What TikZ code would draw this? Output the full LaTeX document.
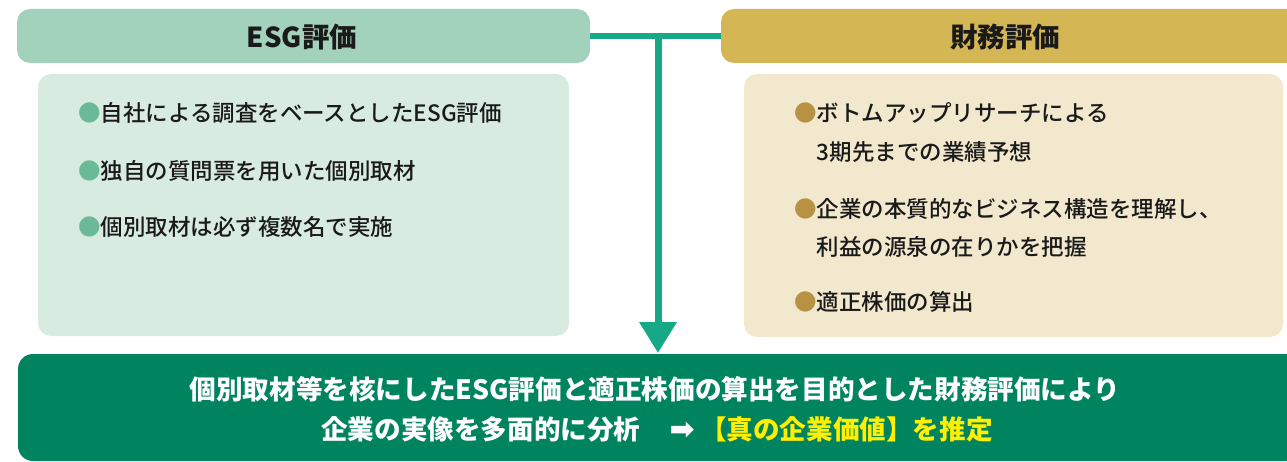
\documentclass[tikz,border=0pt]{standalone}
\usepackage{fontspec}
\setmainfont{Noto Sans CJK JP}
\newfontfamily\medfont{Noto Sans CJK JP Medium}
\newfontfamily\symfont{DejaVu Sans}
\usetikzlibrary{arrows.meta}
\definecolor{esghead}{HTML}{A3D2BC}
\definecolor{esgbody}{HTML}{D7EBE1}
\definecolor{finhead}{HTML}{D4B655}
\definecolor{finbody}{HTML}{F2E8CD}
\definecolor{conn}{HTML}{17A985}
\definecolor{bottombg}{HTML}{00845F}
\definecolor{gbullet}{HTML}{6BBA97}
\definecolor{ybullet}{HTML}{B79245}
\definecolor{hilite}{HTML}{FFEF00}
\definecolor{txt}{HTML}{1A1A1A}
\tikzset{
  headtext/.style={font=\fontsize{27.5}{30}\selectfont\bfseries, text=txt},
  itemtext/.style={font=\medfont\fontsize{22.5}{39}\selectfont, text=txt, anchor=west, inner sep=0pt, align=left},
  bottomtext/.style={font=\fontsize{26.6}{40}\selectfont\bfseries, text=white, align=center, inner sep=0pt},
}
\newcommand{\gb}{\textcolor{gbullet}{●}}
\newcommand{\yb}{\textcolor{ybullet}{●}}
\begin{document}
\begin{tikzpicture}[x=1pt,y=-1pt]
\useasboundingbox (0,0) rectangle (1287,462);
% panels
\fill[esghead, rounded corners=13pt] (17,9) rectangle (590,63);
\fill[esgbody, rounded corners=13pt] (38,74) rectangle (569,336);
\fill[finhead, rounded corners=13pt] (721,9) rectangle (1300,63);
\fill[finbody, rounded corners=13pt] (744,74) rectangle (1283,337);
\fill[bottombg, rounded corners=15pt] (18,354) rectangle (1300,461);
% named anchors for connectors
\coordinate (esgR) at (590,36);
\coordinate (finL) at (721,36);
\coordinate (junc) at (658,36);
\coordinate (tip) at (658,353);
% headers
\node[headtext] (esgH) at (302,37) {ESG評価};
\node[headtext] (finH) at (1005,37) {財務評価};
% connector
\draw[conn, line width=6.5pt] (esgR) -- (finL);
\draw[conn, line width=7pt, -{Triangle[width=36pt,length=31pt]}] (junc) -- (tip);
% ESG items
\node[itemtext] (e1) at (78,113) {\gb 自社による調査をベースとしたESG評価};
\node[itemtext] (e2) at (78,171) {\gb 独自の質問票を用いた個別取材};
\node[itemtext] (e3) at (78,227) {\gb 個別取材は必ず複数名で実施};
% Finance items
\node[itemtext] (f1) at (794,113) {\yb ボトムアップリサーチによる};
\node[itemtext] (f1b) at (794,152) {\phantom{●}3期先までの業績予想};
\node[itemtext] (f2) at (794,209) {\yb 企業の本質的なビジネス構造を理解し、};
\node[itemtext] (f2b) at (794,247) {\phantom{●}利益の源泉の在りかを把握};
\node[itemtext] (f3) at (794,302) {\yb 適正株価の算出};
% bottom text
\node[bottomtext] (b1) at (655,389) {個別取材等を核にしたESG評価と適正株価の算出を目的とした財務評価により};
\node[bottomtext] (b2) at (657,429) {企業の実像を多面的に分析\hspace{1.1em}{\symfont\fontsize{30}{24}\selectfont ➡}\hspace{0.2em}\textcolor{hilite}{【真の企業価値】を推定}};
\end{tikzpicture}
\end{document}
